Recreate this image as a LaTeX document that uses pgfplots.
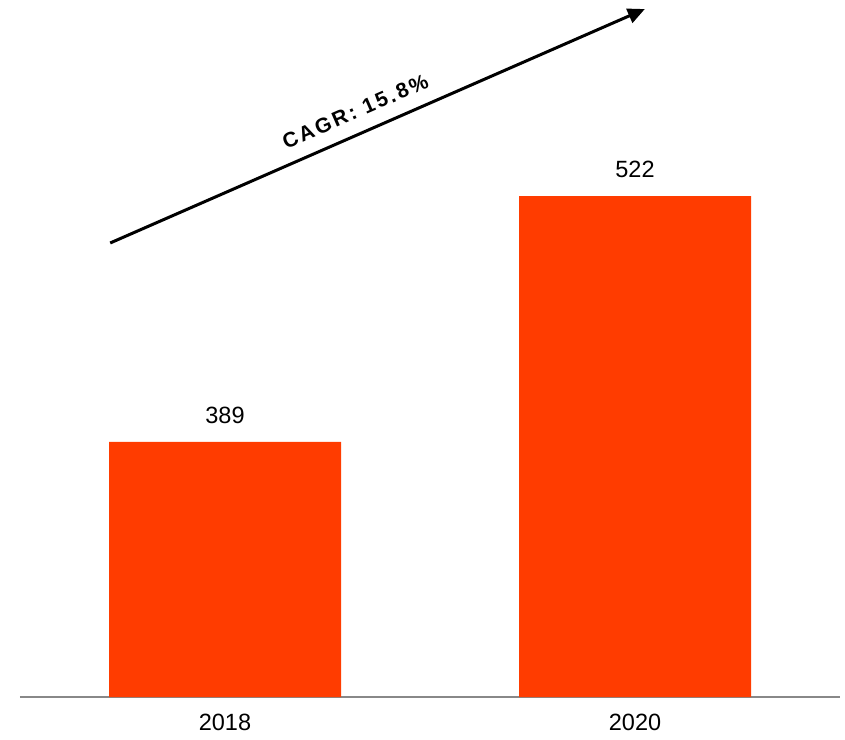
\documentclass[border=0pt]{standalone}
\usepackage{fontspec}
\setmainfont{Liberation Sans}
\usepackage{pgfplots}
\pgfplotsset{compat=1.18}
\usetikzlibrary{arrows.meta}
\definecolor{barred}{HTML}{FF3C00}
\definecolor{axgray}{HTML}{888888}
\begin{document}
\begin{tikzpicture}[x=1pt,y=1pt]
\useasboundingbox (0,0) rectangle (845,739);
\begin{axis}[
  at={(20pt,42pt)}, anchor=south west,
  scale only axis, width=820pt, height=697pt,
  xmin=-0.5, xmax=1.5, ymin=251, ymax=628.2,
  axis x line=bottom, axis y line=none,
  axis line style={axgray, line width=2pt, -},
  xtick={0,1}, xticklabels={2018,2020},
  major tick length=0pt,
  xticklabel style={font=\fontsize{23.5}{28}\selectfont, yshift=-16pt, inner sep=1pt},
  ytick=\empty,
  clip=false,
  /pgf/number format/assume math mode=true,
  nodes near coords,
  every node near coord/.append style={font=\fontsize{23.5}{28}\selectfont, yshift=15pt},
]
\addplot[ybar, bar width=232pt, fill=barred, draw=none] coordinates {(0,389) (1,522)};
\draw[line width=3pt, -{Triangle[length=17pt,width=15pt]}] (axis cs:-0.280,496.7) -- (axis cs:1.024,623.3)
  node[pos=0.475, sloped, above, yshift=10pt, font=\fontsize{21}{25}\selectfont\bfseries\addfontfeature{LetterSpace=12}] {CAGR: 15.8\%};
\end{axis}
\end{tikzpicture}
\end{document}
